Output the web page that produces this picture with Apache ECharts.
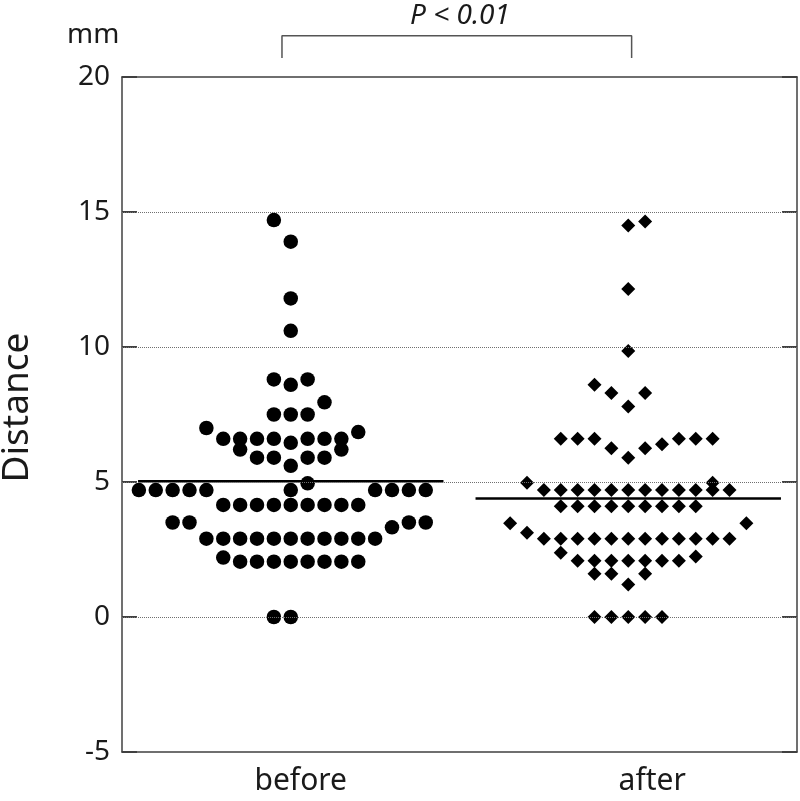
<!DOCTYPE html>
<html>
<head>
<meta charset="utf-8">
<title>Distance before / after</title>
<script src="https://cdn.jsdelivr.net/npm/echarts@6/dist/echarts.min.js"></script>
<style>
  html, body { margin: 0; padding: 0; background: #fff; }
  #main { width: 800px; height: 801px; }
</style>
</head>
<body>
<div id="main"></div>
<script>
// categories sit at x = 1 and x = 3 on a 0..4 value axis
const categories = ['before', 'after'];
const yTicks = [-5, 0, 5, 10, 15, 20];
const unitLabel = 'mm';
const pLabel = 'P < 0.01';

// each row: [distance, swarm columns of the dots at that distance]
const beforeRows = [
  [14.7, [-1]],
  [13.9, [0]],
  [11.8, [0]],
  [10.6, [0]],
  [8.8, [-1, 1]],
  [8.6, [0]],
  [7.95, [2]],
  [7.5, [-1, 0, 1]],
  [7.0, [-5]],
  [6.85, [4]],
  [6.6, [-4, -3, -2, -1, 1, 2, 3]],
  [6.45, [0]],
  [6.2, [-3, 3]],
  [5.9, [-2, -1, 1, 2]],
  [5.6, [0]],
  [4.95, [1]],
  [4.7, [-9, -8, -7, -6, -5, 0, 5, 6, 7, 8]],
  [4.15, [-4, -3, -2, -1, 0, 1, 2, 3, 4]],
  [3.5, [-7, -6, 7, 8]],
  [3.32, [6]],
  [2.9, [-5, -4, -3, -2, -1, 0, 1, 2, 3, 4, 5]],
  [2.2, [-4]],
  [2.05, [-3, -2, -1, 0, 1, 2, 3, 4]],
  [0, [-1, 0]]
];

const afterRows = [
  [14.65, [1]],
  [14.5, [0]],
  [12.15, [0]],
  [9.85, [0]],
  [8.6, [-2]],
  [8.3, [-1, 1]],
  [7.8, [0]],
  [6.6, [-4, -3, -2, 3, 4, 5]],
  [6.4, [2]],
  [6.25, [-1, 1]],
  [5.9, [0]],
  [4.97, [-6, 5]],
  [4.7, [-5, -4, -3, -2, -1, 0, 1, 2, 3, 4, 5, 6]],
  [4.1, [-4, -3, -2, -1, 0, 1, 2, 3, 4]],
  [3.47, [-7, 7]],
  [3.12, [-6]],
  [2.9, [-5, -4, -3, -2, -1, 0, 1, 2, 3, 4, 5, 6]],
  [2.38, [-4]],
  [2.24, [4]],
  [2.08, [-3, -2, -1, 0, 1, 2, 3]],
  [1.6, [-2, -1, 1]],
  [1.2, [0]],
  [0, [-2, -1, 0, 1, 2]]
];

const means = [5.03, 4.39];
const gridValues = [0, 5, 10, 15];

const centers = [1, 3];
const colStep = 0.1;
const meanHalf = 0.905;

function swarm(rows, center) {
  const pts = [];
  rows.forEach(function (r) {
    r[1].forEach(function (c) { pts.push([center + c * colStep, r[0]]); });
  });
  return pts;
}

const axisColor = '#404040';
const textColor = '#1a1a1a';
const font = 'Noto Sans';

const chart = echarts.init(document.getElementById('main'));

chart.setOption({
  animation: false,
  backgroundColor: '#fff',
  title: [
    {
      text: unitLabel, left: 62, top: 16,
      textStyle: { fontFamily: font, fontSize: 28, fontWeight: 'normal', color: textColor }
    },
    {
      text: pLabel, left: 455, textAlign: 'center', top: -3,
      textStyle: { fontFamily: font, fontSize: 28, fontStyle: 'italic', fontWeight: 'normal', color: textColor }
    }
  ],
  grid: { left: 122, right: 3, top: 77, bottom: 49, outerBoundsMode: 'none', containLabel: false },
  xAxis: [
    {
      type: 'value', min: 0, max: 4, interval: 1, position: 'bottom',
      axisLine: { show: true, onZero: false, lineStyle: { color: axisColor, width: 1.5 } },
      axisTick: { show: false },
      splitLine: { show: false },
      axisLabel: {
        margin: 14,
        formatter: function (v) {
          if (v === centers[0]) return '{b|' + categories[0] + '}';
          if (v === centers[1]) return '{a|' + categories[1] + '}';
          return '';
        },
        rich: {
          b: { fontFamily: font, fontSize: 30, color: textColor, padding: [0, 0, 0, 20] },
          a: { fontFamily: font, fontSize: 30, color: textColor, padding: [0, 0, 0, 48] }
        }
      }
    },
    {
      type: 'value', min: 0, max: 4, position: 'top',
      axisLine: { show: true, onZero: false, lineStyle: { color: axisColor, width: 1.5 } },
      axisTick: { show: false }, axisLabel: { show: false }, splitLine: { show: false }
    }
  ],
  yAxis: [
    {
      type: 'value', min: yTicks[0], max: yTicks[yTicks.length - 1], interval: 5,
      name: 'Distance', nameLocation: 'middle', nameGap: 86, nameRotate: 90,
      nameTextStyle: { fontFamily: font, fontSize: 37, color: textColor, padding: [0, 0, 0, 14] },
      axisLine: { show: true, onZero: false, lineStyle: { color: axisColor, width: 1.5 } },
      axisTick: { show: true, inside: true, length: 15, lineStyle: { color: axisColor, width: 2 } },
      axisLabel: { margin: 12, fontFamily: font, fontSize: 28, color: textColor },
      splitLine: { show: false }
    },
    {
      type: 'value', min: yTicks[0], max: yTicks[yTicks.length - 1], interval: 5, position: 'right',
      axisLine: { show: true, onZero: false, lineStyle: { color: axisColor, width: 1.5 } },
      axisTick: { show: true, inside: true, length: 15, lineStyle: { color: axisColor, width: 2 } },
      axisLabel: { show: false },
      splitLine: { show: false }
    }
  ],
  series: [
    {
      name: 'grid', type: 'line', data: [], silent: true, z: 1,
      markLine: {
        silent: true, symbol: ['none', 'none'], label: { show: false },
        lineStyle: { type: 'dotted', color: '#707070', width: 1 },
        data: gridValues.map(function (v) { return { yAxis: v }; })
      }
    },
    {
      name: categories[0], type: 'scatter', z: 3,
      symbol: 'circle', symbolSize: 14.5,
      itemStyle: { color: '#000', opacity: 1 },
      data: swarm(beforeRows, centers[0])
    },
    {
      name: categories[1], type: 'scatter', z: 3,
      symbol: 'diamond', symbolSize: 14,
      itemStyle: { color: '#000', opacity: 1 },
      data: swarm(afterRows, centers[1])
    },
    {
      name: 'mean before', type: 'line', z: 4, symbol: 'none', silent: true,
      lineStyle: { color: '#000', width: 2.5 },
      data: [[centers[0] - meanHalf, means[0]], [centers[0] + meanHalf, means[0]]]
    },
    {
      name: 'mean after', type: 'line', z: 4, symbol: 'none', silent: true,
      lineStyle: { color: '#000', width: 2.5 },
      data: [[centers[1] - meanHalf, means[1]], [centers[1] + meanHalf, means[1]]]
    },
    {
      name: 'bracket', type: 'line', z: 4, symbol: 'none', silent: true, clip: false,
      lineStyle: { color: '#555', width: 1.5 },
      data: [[0.948, 20.7], [0.948, 21.53], [3.02, 21.53], [3.02, 20.7]]
    }
  ]
});
</script>
</body>
</html>
